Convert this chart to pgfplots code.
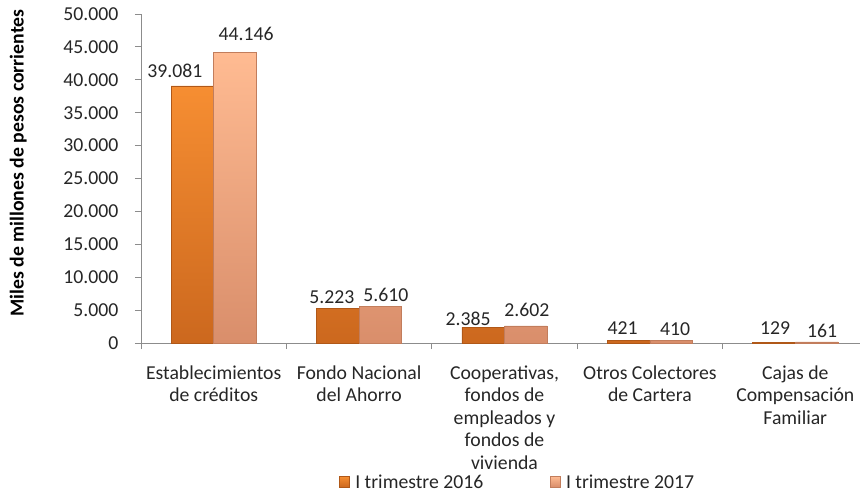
\documentclass[border=0pt]{standalone}
\usepackage{pgfplots}
\pgfplotsset{compat=1.18}
\usepackage{pgfplotstable}
\usepackage{fontspec}
\setmainfont{Carlito}

\definecolor{orangetop}{HTML}{F68E32}
\definecolor{orangebot}{HTML}{CC681E}
\definecolor{orangeedge}{HTML}{B05818}
\definecolor{peachtop}{HTML}{FFBB92}
\definecolor{peachbot}{HTML}{D98E6B}
\definecolor{peachedge}{HTML}{C27D5C}
\definecolor{axisgray}{HTML}{8C8C8C}
\definecolor{txt}{HTML}{262626}

\newcommand{\lbl}{\fontsize{14.8}{16.9}\selectfont}

% x, values 2016/2017, label offsets in pt from the category centre
\pgfplotstableread{
x a     b     dxa    dya  dxb   dyb
0 39081 44146 -29.05 11.3 24.25 13.9
1 5223  5610  -20.45 8.7  20.05 8.3
2 2385  2602  -27.25 6.4  16.7  12.0
3 421   410   -20.45 9.4  18.95 8.3
4 129   161   -15.2  10.9 20.05 8.3
}\cartera

\begin{document}
\begin{tikzpicture}
\begin{axis}[
  scale only axis, width=545.25pt, height=246.75pt,
  xmin=-0.5, xmax=4.5, ymin=0, ymax=50000,
  xtick={0,...,4},
  xticklabels={{Establecimientos\\de créditos}, {Fondo Nacional\\del Ahorro},
    {Cooperativas,\\fondos de\\empleados y\\fondos de\\vivienda},
    {Otros Colectores\\de Cartera}, {Cajas de\\Compensación\\Familiar}},
  minor xtick={-0.5,0.5,...,4.5},
  ytick={0,5000,...,50000},
  scaled y ticks=false,
  axis x line*=bottom, axis y line*=left,
  axis line style={draw=axisgray, -},
  tick align=outside,
  major tick length=4.5pt, minor tick length=4.5pt,
  tick style={draw=axisgray, line width=0.6pt},
  major x tick style={draw=none},
  /pgf/number format/.cd, fixed, precision=0, 1000 sep={.}, assume math mode=true,
  /pgfplots/.cd,
  tick label style={font=\lbl, text=txt},
  x tick label style={align=center, yshift=-9pt},
  y tick label style={xshift=-9pt},
  ylabel={\bfseries Miles de millones de pesos corrientes},
  ylabel style={at={(rel axis cs:-0.169,0.547)}, anchor=center, font=\lbl, text=black},
  every node near coord/.append style={font=\lbl, text=txt, anchor=center,
    xshift=\dx pt, yshift=\dy pt},
  legend style={at={(rel axis cs:0.5186,-0.4255)}, anchor=center, draw=none, fill=none,
    legend columns=2, font=\lbl, text=txt,
    /tikz/every odd column/.append style={column sep=2pt},
    /tikz/every even column/.append style={column sep=48pt}},
]
\addplot[ybar, bar width=31.9pt, bar shift=-15.95pt, nodes near coords, forget plot,
  draw=orangeedge, line width=0.5pt, top color=orangetop, bottom color=orangebot,
  visualization depends on={\thisrow{dxa} \as \dx},
  visualization depends on={\thisrow{dya} \as \dy}]
  table[x=x, y=a] {\cartera};
\addplot[ybar, bar width=31.9pt, bar shift=15.95pt, nodes near coords, forget plot,
  draw=peachedge, line width=0.5pt, top color=peachtop, bottom color=peachbot,
  visualization depends on={\thisrow{dxb} \as \dx},
  visualization depends on={\thisrow{dyb} \as \dy}]
  table[x=x, y=b] {\cartera};

\addlegendimage{legend image code/.code={\draw[draw=orangeedge, line width=0.5pt,
  top color=orangetop, bottom color=orangebot] (0pt,-3pt) rectangle (7.5pt,5pt);}}
\addlegendentry{I trimestre 2016}
\addlegendimage{legend image code/.code={\draw[draw=peachedge, line width=0.5pt,
  top color=peachtop, bottom color=peachbot] (0pt,-3pt) rectangle (7.5pt,5pt);}}
\addlegendentry{I trimestre 2017}
\end{axis}
\pgfresetboundingbox
\useasboundingbox (-105.75pt,-112.5pt) rectangle (539.25pt,257.25pt);
\end{tikzpicture}
\end{document}
